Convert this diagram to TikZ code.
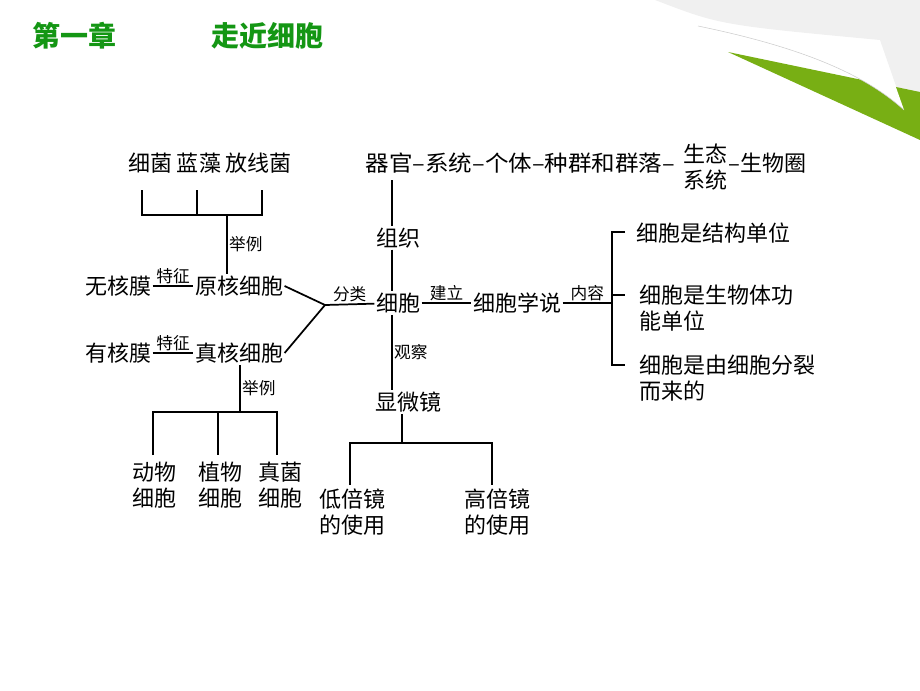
\documentclass[tikz,border=0pt]{standalone}
\usepackage{fontspec}
\setmainfont{Noto Sans CJK SC}
\usetikzlibrary{positioning}
\definecolor{titlegreen}{RGB}{20,150,20}
\definecolor{leafgreen}{RGB}{120,175,20}
\tikzset{
  item/.style={inner sep=1pt, font=\fontsize{16.5}{19}\selectfont},
  multi/.style={item, align=left},
  lbl/.style={inner sep=1pt, font=\fontsize{12.5}{14}\selectfont},
  link/.style={line width=1.3pt, black}
}
\begin{document}
\begin{tikzpicture}[x=0.75pt,y=-0.75pt]
\useasboundingbox (0,0) rectangle (920,690);
% page curl
\fill[gray!12] (655,0) .. controls (720,25) .. (880,40) -- (905,112) -- (920,140) -- (920,0) -- cycle;
\fill[leafgreen] (728,52) -- (920,92) -- (920,140) -- cycle;
\fill[white] (698,26) .. controls (790,45) and (860,70) .. (904,110) -- (880,42) .. controls (820,45) and (760,35) .. (698,26) -- cycle;
\draw[gray!40] (698,26) .. controls (790,45) and (860,70) .. (904,110);
% title
\node[anchor=west, text=titlegreen, font=\fontsize{21}{24}\selectfont\bfseries] (title) at (28,36) {第一章\hspace{3.4em}走近细胞};

% prokaryote examples
\node[item] (bac) at (210,163) {细菌\ 蓝藻\ 放线菌};
\coordinate (p1) at (142,190);
\coordinate (p2) at (197,190);
\coordinate (p3) at (262,190);
\draw[link] (p1) |- (262,215) -- (p3);
\draw[link] (p2) -- (197,215);
\node[item] (pro) at (239,286) {原核细胞};
\draw[link] (227,215) -- (pro.north -| 227,0) node[lbl, midway, right] {举例};
\node[item] (nomem) at (118,286) {无核膜};
\draw[link] (nomem) -- (pro) node[lbl, midway, above] {特征};

% eukaryote
\node[item] (euk) at (239,353) {真核细胞};
\node[item] (mem) at (118,353) {有核膜};
\draw[link] (mem) -- (euk) node[lbl, midway, above] {特征};
\draw[link] (euk.south -| 240,0) -- (240,412) node[lbl, midway, right] {举例};
\draw[link] (153,455) |- (277,412) -- (277,455);
\draw[link] (218,412) -- (218,455);
\node[multi, align=center] (ani) at (154,485) {动物\\细胞};
\node[multi, align=center] (pla) at (220,485) {植物\\细胞};
\node[multi, align=center] (fun) at (280,485) {真菌\\细胞};

% cell
\node[item] (cell) at (398,303) {细胞};
\coordinate (fork) at (325,305);
\draw[link] (pro.east) -- (fork);
\draw[link] (euk.east) -- (fork);
\draw[link] (fork) -- (cell) node[lbl, midway, above] {分类};

% levels
\node[item, anchor=west, xscale=1.07] (org) at (364,163) {器官–系统–个体–种群和群落–};
\node[multi, align=center, anchor=west] (eco) at (682,167) {生态\\系统};
\node[item, anchor=west] (bio) at (727,163) {–生物圈};
\node[item] (tis) at (398,238) {组织};
\draw[link] (392,180) -- (tis.north -| 392,0);
\draw[link] (tis.south -| 392,0) -- (cell.north -| 392,0);

% microscope
\node[item] (mic) at (408,402) {显微镜};
\draw[link] (cell.south -| 392,0) -- (mic.north -| 392,0) node[lbl, midway, right] {观察};
\draw[link] (mic.south -| 402,0) -- (402,443);
\draw[link] (350,485) |- (492,443) -- (492,485);
\node[multi, align=center] (low) at (352,512) {低倍镜\\的使用};
\node[multi, align=center] (high) at (497,512) {高倍镜\\的使用};

% cell theory
\node[item] (theo) at (517,303) {细胞学说};
\draw[link] (cell) -- (theo) node[lbl, midway, above] {建立};
\coordinate (br) at (612,303);
\draw[link] (theo) -- (br) node[lbl, midway, above] {内容};
\draw[link] (625,232) -| (612,365) -- (625,365);
\draw[link] (612,295) -- (625,295);
\node[item, anchor=west] (t1) at (635,233) {细胞是结构单位};
\node[multi, anchor=west] (t2) at (638,308) {细胞是生物体功\\能单位};
\node[multi, anchor=west] (t3) at (638,378) {细胞是由细胞分裂\\而来的};
\end{tikzpicture}
\end{document}
